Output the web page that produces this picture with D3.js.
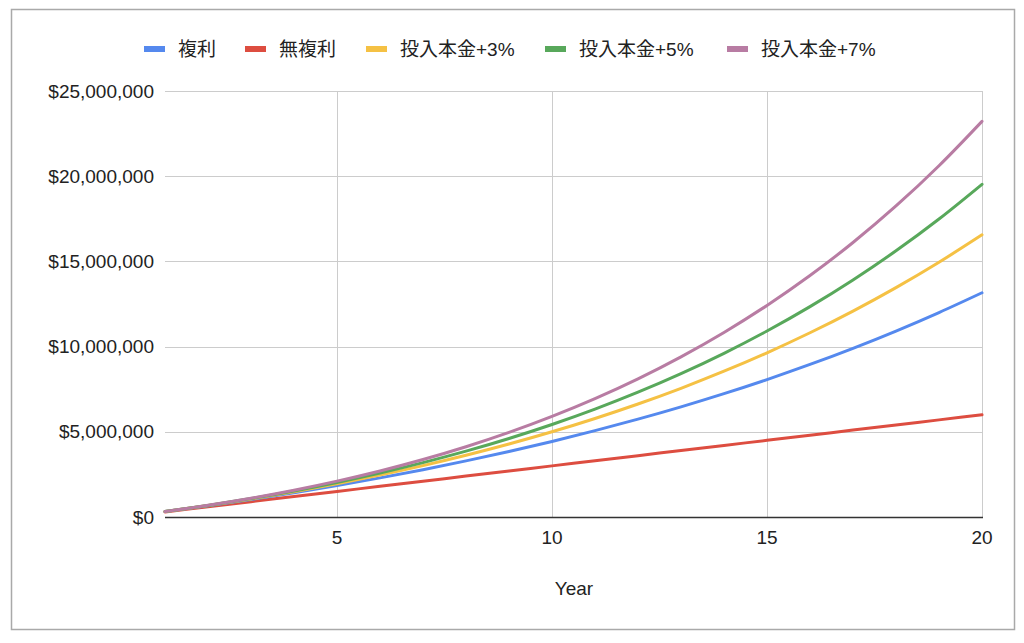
<!DOCTYPE html>
<html><head><meta charset="utf-8">
<script src="https://cdn.jsdelivr.net/npm/d3@7"></script>
<style>
html,body{margin:0;padding:0;background:#fff;}
svg text{font-family:"Liberation Sans",Arial,"Noto Sans CJK JP",sans-serif;}
</style></head>
<body><svg id="chart" width="1024" height="643"></svg>
<script>
const years = [1,2,3,4,5,6,7,8,9,10,11,12,13,14,15,16,17,18,19,20];
const seriesNames = ["複利","無複利","投入本金+3%","投入本金+5%","投入本金+7%"];
const seriesColors = ["#5589ee","#dd4d40","#f5c144","#58a85b","#b87ca3"];
const compound = [321000,664470,1031983,1425222,1845987,2296206,2777941,3293396,3844934,4435079,5066535,5742193,6465146,7238706,8066416,8952065,9899710,10913689,11998648,13159553];
const simple = [300000,600000,900000,1200000,1500000,1800000,2100000,2400000,2700000,3000000,3300000,3600000,3900000,4200000,4500000,4800000,5100000,5400000,5700000,6000000];
const plus3 = [321000,674100,1061836,1486930,1952303,2461092,3016659,3622614,4282831,5001461,5782960,6632107,7553993,8554172,9638506,10813309,12085351,13461890,14950703,16560128];
const plus5 = [321000,680520,1082059,1529401,2026636,2578187,3188831,3863729,4608453,5429021,6331928,7324182,8413344,9607572,10915660,12347092,13912091,15621675,17487717,19523009];
const plus7 = [321000,686940,1102539,1572955,2103828,2701314,3372140,4123646,4963839,5901453,6946012,8107891,9398396,10829843,12415644,14170387,16109957,18251633,20614210,23218104];
const xTicks = [5,10,15,20];
const yTicks = [0,5000000,10000000,15000000,20000000,25000000];
const xTitle = "Year";

(function(){
const allSeries = [compound, simple, plus3, plus5, plus7];
const svg = d3.select("#chart");
const pL = 165, pR = 982, pT = 91, pB = 517;
const FS = 19;

svg.append("rect").attr("x",11.5).attr("y",9.5).attr("width",1003).attr("height",620)
  .attr("fill","none").attr("stroke","#a9a9a9").attr("stroke-width",1.5);

const x = d3.scaleLinear().domain([1,20]).range([pL,pR]);
const y = d3.scaleLinear().domain([0,25000000]).range([pB,pT]);

const g = svg.append("g");
g.selectAll(".hg").data(yTicks).join("line")
  .attr("x1",pL).attr("x2",pR+1).attr("y1",d=>Math.round(y(d))+0.5).attr("y2",d=>Math.round(y(d))+0.5)
  .attr("stroke","#cccccc").attr("stroke-width",1);
g.selectAll(".vg").data(xTicks).join("line")
  .attr("x1",d=>Math.round(x(d))+0.5).attr("x2",d=>Math.round(x(d))+0.5).attr("y1",pT).attr("y2",pB)
  .attr("stroke","#cccccc").attr("stroke-width",1);

const fmt = d => "$" + d3.format(",")(d);
svg.append("g").selectAll("text").data(yTicks).join("text")
  .attr("x",154).attr("y",d=>y(d)).attr("dy","0.35em").attr("text-anchor","end")
  .attr("font-size",FS).attr("fill","#222").text(fmt);

svg.append("g").selectAll("text").data(xTicks).join("text")
  .attr("x",d=>x(d)).attr("y",537).attr("dy","0.35em").attr("text-anchor","middle")
  .attr("font-size",FS).attr("fill","#222").text(d=>d);

svg.append("text").attr("x",574).attr("y",588).attr("dy","0.35em").attr("text-anchor","middle")
  .attr("font-size",FS).attr("fill","#222").text(xTitle);

const line = d3.line().x((d,i)=>x(years[i])).y(d=>y(d)).curve(d3.curveMonotoneX);
[1,0,2,3,4].forEach(i=>{
  svg.append("path").datum(allSeries[i]).attr("d",line)
    .attr("fill","none").attr("stroke",seriesColors[i]).attr("stroke-width",3)
    .attr("stroke-linejoin","round").attr("stroke-linecap","round");
});

svg.append("line").attr("x1",pL).attr("x2",pR+1).attr("y1",pB+0.5).attr("y2",pB+0.5)
  .attr("stroke","#333").attr("stroke-width",1.3);

const legendX = [144,245,366,545,727];
const lg = svg.append("g");
seriesNames.forEach((n,i)=>{
  lg.append("rect").attr("x",legendX[i]).attr("y",46).attr("width",21).attr("height",6).attr("fill",seriesColors[i]);
  lg.append("text").attr("x",legendX[i]+34).attr("y",49).attr("dy","0.35em")
    .attr("font-size",FS).attr("fill","#222").text(n);
});
})();
</script></body></html>
